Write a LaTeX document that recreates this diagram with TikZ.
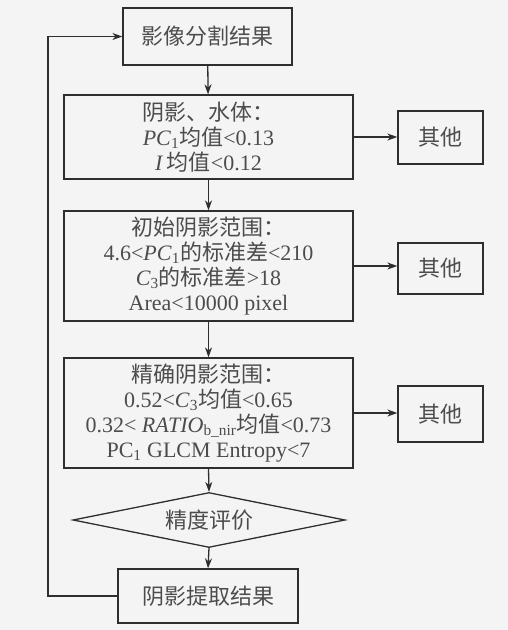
\documentclass[tikz,border=0pt]{standalone}
\usepackage{fontspec}
\setmainfont{Liberation Serif}
\newfontfamily\cjk{Noto Sans CJK SC}
\usetikzlibrary{shapes.geometric,arrows.meta}
\definecolor{bg}{HTML}{F4F4F4}
\definecolor{ln}{HTML}{2E2E2E}
\definecolor{tx}{HTML}{4C4C4C}
\begin{document}
\begin{tikzpicture}[x=1pt,y=-1pt,
  box/.style={draw=ln, line width=1.3pt, rectangle, align=center, text=tx,
    font=\fontsize{22}{25}\selectfont, inner sep=0pt},
  dia/.style={box, diamond, aspect=5},
  arr/.style={draw=ln, line width=1.3pt, -{Stealth[length=10pt,width=7pt]}}]
\fill[bg] (0,0) rectangle (508,630);
\useasboundingbox (0,0) rectangle (508,630);
\node[box, minimum width=169pt, minimum height=57pt] (top) at (207.5,36.5) {{\cjk 影像分割结果}};
\node[box, minimum width=289pt, minimum height=84pt] (b2) at (208.5,137)
  {{\cjk 阴影、水体：}\\ \textit{PC}\textsubscript{1}{\cjk 均值}<0.13\\ \textit{I}\,{\cjk 均值}<0.12};
\node[box, minimum width=85pt, minimum height=53pt] (o1) at (440.5,137.5) {{\cjk 其他}};
\node[box, minimum width=289pt, minimum height=110pt] (b3) at (208.5,266)
  {{\cjk 初始阴影范围：}\\ 4.6<\textit{PC}\textsubscript{1}{\cjk 的标准差}<210\\ \textit{C}\textsubscript{3}{\cjk 的标准差}>18\\ Area<10000 pixel};
\node[box, minimum width=85pt, minimum height=51pt] (o2) at (440.5,268.5) {{\cjk 其他}};
\node[box, minimum width=289pt, minimum height=110pt] (b4) at (208.5,413)
  {{\cjk 精确阴影范围：}\\ 0.52<\textit{C}\textsubscript{3}{\cjk 均值}<0.65\\ 0.32< \textit{RATIO}\textsubscript{b\_nir}{\cjk 均值}<0.73\\ PC\textsubscript{1} GLCM Entropy<7};
\node[box, minimum width=85pt, minimum height=56pt] (o3) at (440.5,414) {{\cjk 其他}};
\node[dia, minimum width=272pt, minimum height=55pt] (d) at (209,520) {{\cjk 精度评价}};
\node[box, minimum width=180pt, minimum height=54pt] (bot) at (208,596) {{\cjk 阴影提取结果}};
\coordinate (fb) at (48,596);
\draw[arr] (top) -- (b2);
\draw[arr] (b2) -- (b3);
\draw[arr] (b3) -- (b4);
\draw[arr] (b4.south) -- (d.north);
\draw[arr] (d.south) -- (bot.north);
\draw[arr] (b2.east) -- (o1.west |- b2.east);
\draw[arr] (b3.east) -- (o2.west |- b3.east);
\draw[arr] (b4.east) -- (o3.west |- b4.east);
\draw[arr] (bot.west) -- (fb) |- (top.west);
\end{tikzpicture}
\end{document}
